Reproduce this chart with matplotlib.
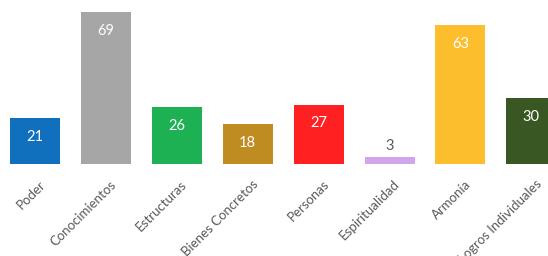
import matplotlib
matplotlib.use('Agg')
import matplotlib.pyplot as plt
import matplotlib.transforms as mtransforms
import numpy as np

categories = ['Poder', 'Conocimientos', 'Estructuras', 'Bienes Concretos',
              'Personas', 'Espiritualidad', 'Armonía', 'Logros Individuales']
values = [21, 69, 26, 18, 27, 3, 63, 30]
colors = ['#1170BE', '#A6A6A6', '#1EB153', '#BF8C22',
          '#FF2121', '#D0A5EE', '#FCBE2C', '#385723']

plt.rcParams['font.family'] = ['Lato', 'DejaVu Sans']

fig = plt.figure(figsize=(5.48, 2.56), dpi=100)
ax = fig.add_axes([0, 0.359, 1, 0.641])
x = np.arange(len(categories))
bars = ax.bar(x, values, width=0.705, color=colors)

ax.set_xlim(-0.494, 7.235)
ax.set_ylim(0, 74.5)

for b, v in zip(bars, values):
    cx = b.get_x() + b.get_width() / 2
    if v < 10:
        ax.annotate(str(v), (cx, v), xytext=(0, 3), textcoords='offset points',
                    ha='center', va='bottom', color='#595959', fontsize=10.5)
    else:
        ax.annotate(str(v), (cx, v), xytext=(0, -13.5), textcoords='offset points',
                    ha='center', va='center', color='white', fontsize=10.5)

ax.set_xticks(x)
ax.set_xticklabels(categories, rotation=45, ha='right', rotation_mode='anchor',
                   fontsize=9.5, color='#595959')
ax.tick_params(axis='x', length=0, pad=10)
shift = mtransforms.ScaledTranslation(4 / 100, 0, fig.dpi_scale_trans)
for lbl in ax.get_xticklabels():
    lbl.set_transform(lbl.get_transform() + shift)
ax.set_yticks([])
for s in ax.spines.values():
    s.set_visible(False)

fig.savefig('out.png', dpi=100)
